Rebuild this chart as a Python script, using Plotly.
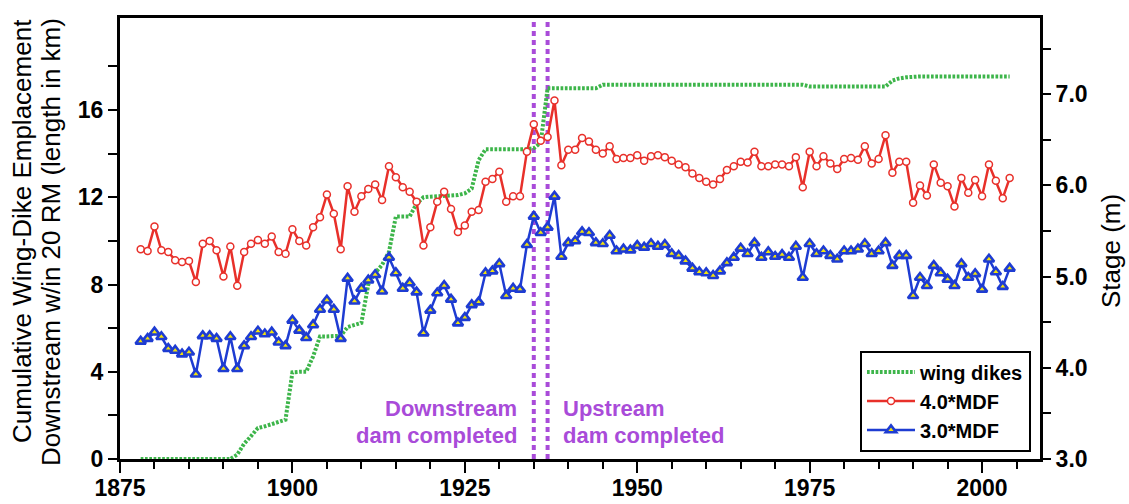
import plotly.graph_objects as go

# ---------------- data ----------------
years = [1878, 1879, 1880, 1881, 1882, 1883, 1884, 1885, 1886, 1887, 1888, 1889,
         1890, 1891, 1892, 1893, 1894, 1895, 1896, 1897, 1898, 1899,
         1900, 1901, 1902, 1903, 1904, 1905, 1906, 1907, 1908, 1909,
         1910, 1911, 1912, 1913, 1914, 1915, 1916, 1917, 1918, 1919,
         1920, 1921, 1922, 1923, 1924, 1925, 1926, 1927, 1928, 1929,
         1930, 1931, 1932, 1933, 1934, 1935, 1936, 1937, 1938, 1939,
         1940, 1941, 1942, 1943, 1944, 1945, 1946, 1947, 1948, 1949,
         1950, 1951, 1952, 1953, 1954, 1955, 1956, 1957, 1958, 1959,
         1960, 1961, 1962, 1963, 1964, 1965, 1966, 1967, 1968, 1969,
         1970, 1971, 1972, 1973, 1974, 1975, 1976, 1977, 1978, 1979,
         1980, 1981, 1982, 1983, 1984, 1985, 1986, 1987, 1988, 1989,
         1990, 1991, 1992, 1993, 1994, 1995, 1996, 1997, 1998, 1999,
         2000, 2001, 2002, 2003, 2004]

# cumulative wing-dike emplacement (km), left axis
wing_dikes_km = [0, 0, 0, 0, 0, 0, 0, 0, 0, 0, 0, 0,
                 0, 0, 0.2, 0.7, 1.05, 1.42, 1.5, 1.58, 1.7, 1.8,
                 3.97, 4.0, 4.0, 4.7, 5.62, 5.62, 5.62, 5.65, 6.05, 6.15,
                 6.24, 8.0, 8.53, 8.9, 9.5, 11.12, 11.12, 11.12, 11.7, 12.0,
                 12.03, 12.05, 12.07, 12.08, 12.1, 12.18, 12.4, 13.7, 14.2, 14.2,
                 14.2, 14.2, 14.2, 14.2, 14.2, 14.25, 14.5, 17.0, 17.0, 17.0,
                 17.0, 17.0, 17.0, 17.0, 17.0, 17.16, 17.16, 17.16, 17.16, 17.16,
                 17.16, 17.16, 17.16, 17.16, 17.16, 17.16, 17.16, 17.16, 17.16, 17.16,
                 17.16, 17.16, 17.16, 17.16, 17.16, 17.16, 17.16, 17.16, 17.16, 17.16,
                 17.16, 17.16, 17.16, 17.16, 17.16, 17.08, 17.08, 17.08, 17.08, 17.08,
                 17.08, 17.08, 17.08, 17.08, 17.08, 17.08, 17.08, 17.35, 17.45, 17.5,
                 17.54, 17.54, 17.54, 17.54, 17.54, 17.54, 17.54, 17.54, 17.54, 17.54,
                 17.54, 17.54, 17.54, 17.54, 17.54]

# stage (m) for 4.0*MDF, right axis
stage_4mdf = [5.30, 5.28, 5.55, 5.29, 5.27, 5.18, 5.16, 5.17, 4.94, 5.36, 5.39, 5.29,
              5.00, 5.33, 4.90, 5.27, 5.36, 5.40, 5.36, 5.44, 5.27, 5.25,
              5.52, 5.39, 5.34, 5.54, 5.65, 5.90, 5.69, 5.30, 5.99, 5.71,
              5.88, 5.96, 6.01, 5.84, 6.21, 6.09, 5.98, 5.93, 5.82, 5.34,
              5.54, 5.82, 5.93, 5.74, 5.49, 5.56, 5.71, 5.73, 6.04, 6.07,
              6.15, 5.82, 5.88, 5.88, 6.37, 6.67, 6.49, 6.53, 6.93, 6.22,
              6.39, 6.39, 6.52, 6.48, 6.39, 6.35, 6.43, 6.29, 6.30, 6.30,
              6.33, 6.27, 6.32, 6.33, 6.31, 6.27, 6.23, 6.20, 6.13, 6.08,
              6.04, 6.01, 6.07, 6.17, 6.21, 6.26, 6.25, 6.37, 6.21, 6.21,
              6.23, 6.23, 6.21, 6.31, 5.98, 6.37, 6.21, 6.32, 6.24, 6.18,
              6.29, 6.30, 6.28, 6.43, 6.24, 6.29, 6.55, 6.14, 6.26, 6.26,
              5.81, 6.00, 5.89, 6.23, 6.03, 5.99, 5.77, 6.08, 5.92, 6.06,
              5.88, 6.23, 6.05, 5.86, 6.08]

# stage (m) for 3.0*MDF, right axis
stage_3mdf = [4.29, 4.32, 4.39, 4.34, 4.21, 4.19, 4.15, 4.17, 3.93, 4.35, 4.35, 4.32,
              3.99, 4.34, 3.99, 4.24, 4.34, 4.40, 4.37, 4.39, 4.28, 4.24,
              4.52, 4.41, 4.33, 4.47, 4.64, 4.74, 4.64, 4.32, 4.98, 4.73,
              4.87, 4.96, 5.02, 4.84, 5.21, 5.04, 4.87, 4.93, 4.83, 4.38,
              4.63, 4.82, 4.90, 4.75, 4.49, 4.55, 4.69, 4.72, 5.04, 5.06,
              5.14, 4.79, 4.87, 4.86, 5.35, 5.66, 5.48, 5.54, 5.88, 5.22,
              5.37, 5.39, 5.49, 5.48, 5.37, 5.36, 5.45, 5.28, 5.30, 5.29,
              5.34, 5.32, 5.36, 5.33, 5.35, 5.25, 5.23, 5.17, 5.09, 5.05,
              5.04, 5.01, 5.06, 5.15, 5.21, 5.31, 5.25, 5.37, 5.21, 5.27,
              5.22, 5.24, 5.21, 5.33, 4.99, 5.36, 5.25, 5.28, 5.23, 5.19,
              5.28, 5.28, 5.30, 5.36, 5.25, 5.28, 5.37, 5.12, 5.23, 5.23,
              4.79, 4.99, 4.90, 5.12, 5.04, 4.97, 4.90, 5.14, 4.99, 5.03,
              4.86, 5.19, 5.05, 4.89, 5.09]

dam_years = [1935, 1937]
dam_labels_down = ["Downstream", "dam completed"]
dam_labels_up = ["Upstream", "dam completed"]
series_names = ["wing dikes", "4.0*MDF", "3.0*MDF"]

left_tickvals = [0, 2, 4, 6, 8, 10, 12, 14, 16, 18]
left_ticktext = ["0", "", "4", "", "8", "", "12", "", "16", ""]

# ---------------- style ----------------
FONT = "Liberation Sans, Arial, Helvetica, sans-serif"
GREEN = "#3DB54A"
RED = "#E8302A"
BLUE = "#1E3CD2"
YELLOW = "#F2E20C"
PURPLE = "#A94BD9"

W, H = 1129, 504
ML, MR, MT, MB = 120, 89, 18, 45
PW, PH = W - ML - MR, H - MT - MB


def px_x(p):
    return (p - ML) / PW


def px_y(p):
    return (H - MB - p) / PH


fig = go.Figure()

fig.add_trace(go.Scatter(
    x=years, y=wing_dikes_km, mode="lines", name=series_names[0],
    line=dict(color=GREEN, width=4, dash="2.7px,1.6px"), yaxis="y"))

fig.add_trace(go.Scatter(
    x=years, y=stage_4mdf, mode="lines+markers", name=series_names[1],
    line=dict(color=RED, width=2.5),
    marker=dict(symbol="circle", size=7, color="white",
                line=dict(color=RED, width=1.5)),
    yaxis="y2"))

fig.add_trace(go.Scatter(
    x=years, y=stage_3mdf, mode="lines+markers", name=series_names[2],
    line=dict(color=BLUE, width=2.5),
    marker=dict(symbol="triangle-up", size=9, color=YELLOW,
                line=dict(color=BLUE, width=2.6)),
    yaxis="y2"))

for yr in dam_years:
    fig.add_shape(type="line", xref="x", yref="paper", x0=yr, x1=yr, y0=0, y1=1,
                  line=dict(color=PURPLE, width=4, dash="5px,4px"), layer="below")

tickfont = dict(family=FONT, size=23, color="black", weight="bold")
annfont = dict(family=FONT, size=22, color=PURPLE, weight="bold")
titlefont = dict(family=FONT, size=26, color="black")

annotations = [
    dict(text=dam_labels_down[0], x=px_x(519), y=px_y(408), xanchor="right", yanchor="middle"),
    dict(text=dam_labels_down[1], x=px_x(519), y=px_y(435), xanchor="right", yanchor="middle"),
    dict(text=dam_labels_up[0], x=px_x(561), y=px_y(408), xanchor="left", yanchor="middle"),
    dict(text=dam_labels_up[1], x=px_x(561), y=px_y(435), xanchor="left", yanchor="middle"),
]
for a in annotations:
    a.update(xref="paper", yref="paper", showarrow=False, font=annfont)

annotations += [
    dict(text="Cumulative Wing-Dike Emplacement", x=px_x(22), y=px_y(231),
         textangle=-90, xanchor="center", yanchor="middle"),
    dict(text="Downstream w/in 20 RM (length in km)", x=px_x(51), y=px_y(242),
         textangle=-90, xanchor="center", yanchor="middle"),
    dict(text="Stage (m)", x=px_x(1111), y=px_y(251),
         textangle=-90, xanchor="center", yanchor="middle"),
]
for a in annotations[4:]:
    a.update(xref="paper", yref="paper", showarrow=False, font=titlefont)

fig.update_layout(
    width=W, height=H,
    margin=dict(l=ML, r=MR, t=MT, b=MB, pad=0, autoexpand=False),
    paper_bgcolor="white", plot_bgcolor="white",
    font=dict(family=FONT, color="black"),
    annotations=annotations,
    xaxis=dict(
        range=[1875, 2008.4], tick0=1875, dtick=25, automargin=False,
        ticks="outside", ticklen=11, tickwidth=2, tickcolor="black",
        showline=True, linewidth=3, linecolor="black", mirror=True,
        showgrid=False, zeroline=False, tickfont=tickfont,
        ticklabelstandoff=-5,
        minor=dict(dtick=5, tick0=1875, ticks="outside", ticklen=7,
                   tickwidth=2, tickcolor="black", showgrid=False),
    ),
    yaxis=dict(
        range=[0, PH / 21.81], tickmode="array", tickvals=left_tickvals,
        ticktext=left_ticktext, automargin=False,
        ticks="outside", ticklen=9, tickwidth=2, tickcolor="black",
        showline=True, linewidth=3, linecolor="black", mirror=True,
        showgrid=False, zeroline=False, tickfont=tickfont,
    ),
    yaxis2=dict(
        overlaying="y", side="right", automargin=False,
        range=[3, 3 + PH / 91.2], tick0=3, dtick=1, tickformat=".1f",
        ticks="outside", ticklen=8, tickwidth=2, tickcolor="black",
        showline=True, linewidth=3, linecolor="black",
        showgrid=False, zeroline=False, tickfont=tickfont,
        minor=dict(dtick=0.5, tick0=3, ticks="outside", ticklen=8,
                   tickwidth=2, tickcolor="black", showgrid=False),
    ),
    legend=dict(
        x=px_x(1031), y=px_y(401), xanchor="right", yanchor="middle",
        bgcolor="white", bordercolor="black", borderwidth=2,
        font=dict(family=FONT, size=20, color="black", weight="bold"),
        itemwidth=48, tracegroupgap=0,
    ),
    showlegend=True,
)

fig.write_html("out.html")
